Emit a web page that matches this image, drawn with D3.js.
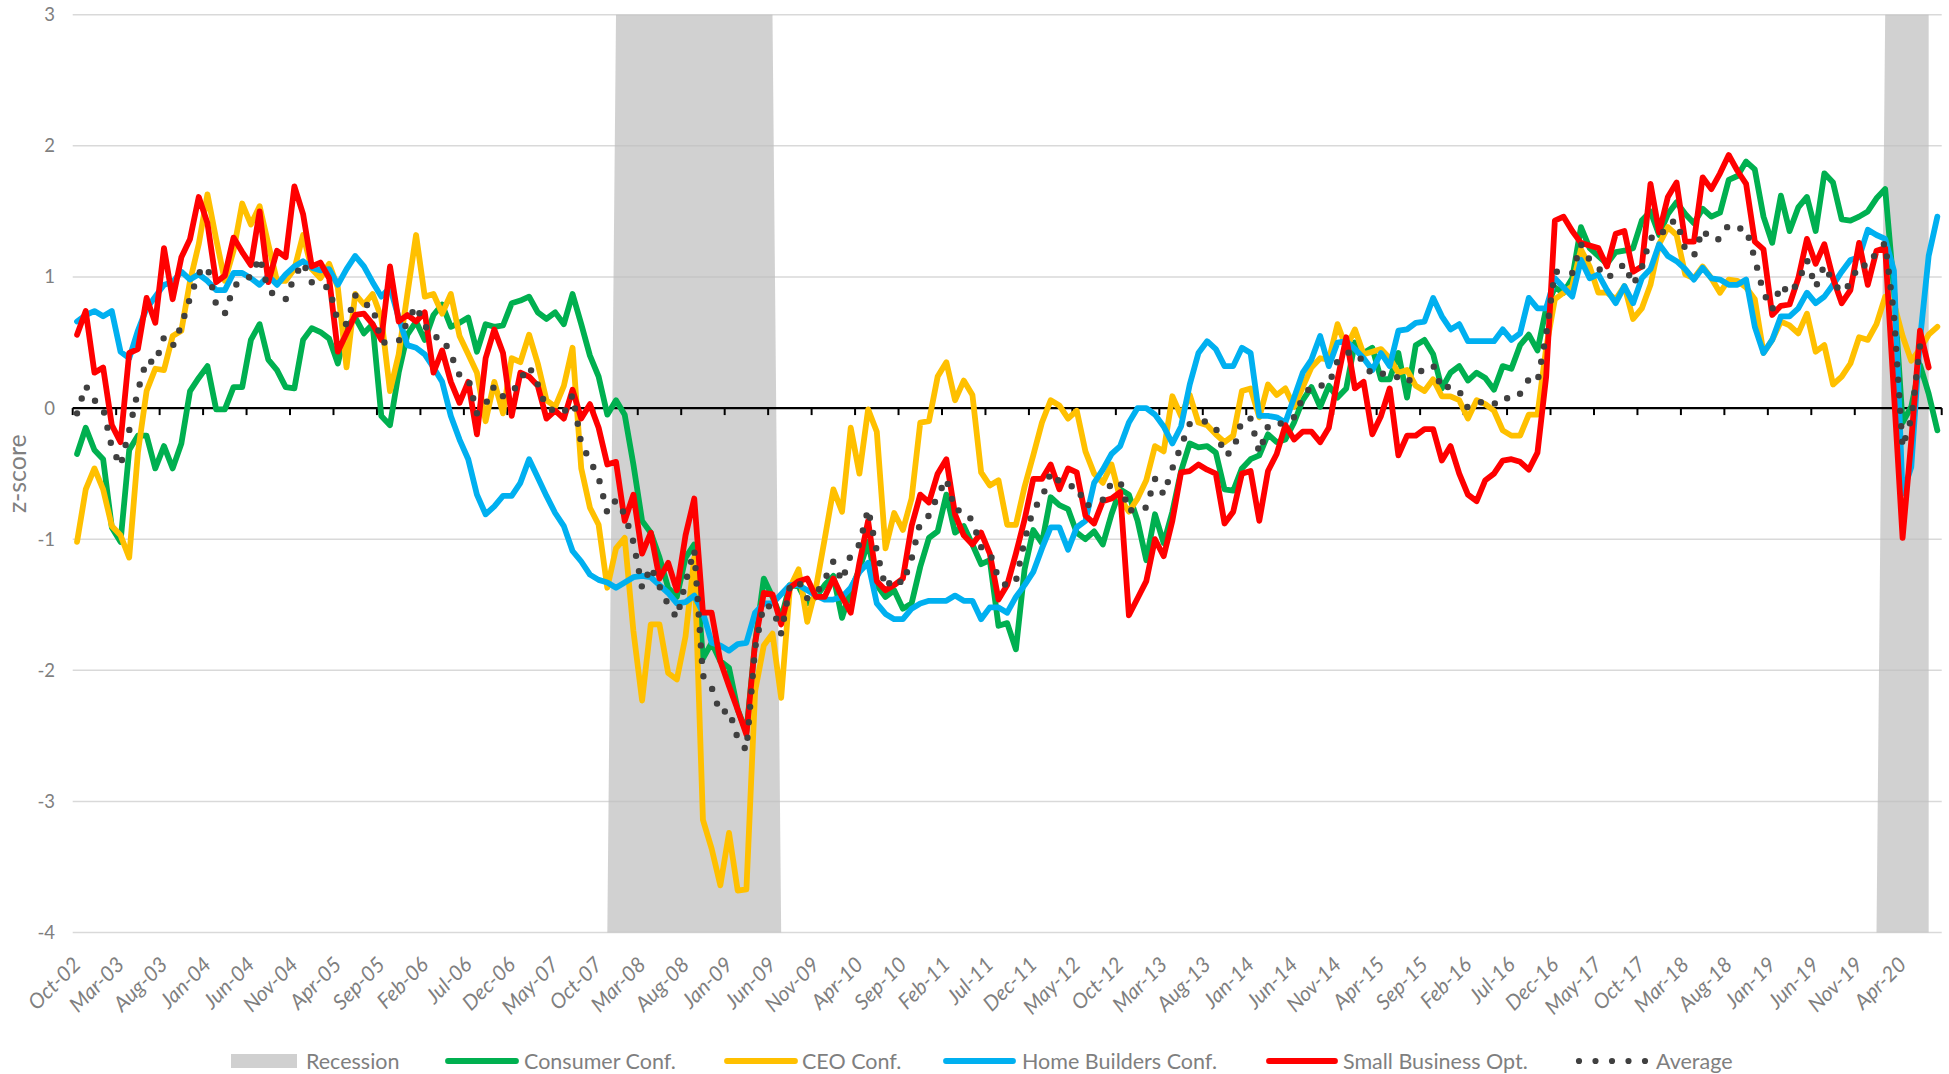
<!DOCTYPE html>
<html><head><meta charset="utf-8">
<script src="https://cdn.jsdelivr.net/npm/d3@7"></script>
<style>html,body{margin:0;padding:0;background:#fff;} svg{display:block;font-family:Lato,"Open Sans",sans-serif;}</style>
</head><body>
<svg id="chart" width="1949" height="1074"></svg>
<script>
// ---------------- DATA ----------------
const firstMonth = new Date(2002, 9, 1);   // Oct-02
const lastMonth  = new Date(2020, 7, 1);   // Aug-20
const fmt = d3.timeFormat("%b-%y");
const categories = d3.timeMonth.range(firstMonth, d3.timeMonth.offset(lastMonth, 1)).map(fmt);

const tickLabels = ["Oct-02","Mar-03","Aug-03","Jan-04","Jun-04","Nov-04","Apr-05","Sep-05","Feb-06","Jul-06",
  "Dec-06","May-07","Oct-07","Mar-08","Aug-08","Jan-09","Jun-09","Nov-09","Apr-10","Sep-10","Feb-11","Jul-11",
  "Dec-11","May-12","Oct-12","Mar-13","Aug-13","Jan-14","Jun-14","Nov-14","Apr-15","Sep-15","Feb-16","Jul-16",
  "Dec-16","May-17","Oct-17","Mar-18","Aug-18","Jan-19","Jun-19","Nov-19","Apr-20"];
const yTicks = [-4, -3, -2, -1, 0, 1, 2, 3];

const recessionPeriods = [["Dec-07", "Jun-09"], ["Feb-20", "Jul-20"]];
const recessionSeriesEnd = "Jul-20";

const consumerConf = [-0.35,-0.15,-0.32,-0.39,-0.91,-1.02,-0.32,-0.21,-0.21,-0.46,
-0.29,-0.46,-0.27,0.13,0.23,0.32,-0.01,-0.01,0.16,0.16,
0.52,0.64,0.37,0.29,0.16,0.15,0.52,0.61,0.58,0.53,
0.34,0.62,0.69,0.57,0.64,-0.06,-0.13,0.27,0.56,0.66,
0.52,0.71,0.79,0.62,0.65,0.69,0.43,0.64,0.62,0.63,
0.80,0.82,0.85,0.73,0.68,0.73,0.64,0.87,0.64,0.40,
0.24,-0.05,0.06,-0.05,-0.43,-0.86,-0.95,-1.14,-1.37,-1.44,
-1.14,-1.04,-1.91,-1.79,-1.93,-1.98,-2.30,-2.47,-1.79,-1.30,
-1.44,-1.60,-1.35,-1.36,-1.49,-1.44,-1.35,-1.28,-1.60,-1.39,
-1.23,-1.02,-1.35,-1.44,-1.39,-1.53,-1.49,-1.21,-0.99,-0.94,
-0.66,-0.95,-0.90,-1.04,-1.19,-1.16,-1.66,-1.64,-1.84,-1.23,
-0.93,-1.03,-0.68,-0.74,-0.77,-0.95,-1.00,-0.94,-1.04,-0.81,
-0.62,-0.66,-0.86,-1.16,-0.81,-1.03,-0.79,-0.48,-0.27,-0.30,
-0.29,-0.34,-0.62,-0.63,-0.46,-0.39,-0.36,-0.20,-0.26,-0.24,
-0.11,0.06,0.16,0.01,0.17,0.08,0.15,0.50,0.42,0.46,
0.22,0.22,0.42,0.08,0.48,0.52,0.41,0.15,0.27,0.32,
0.21,0.27,0.23,0.14,0.32,0.30,0.48,0.56,0.44,0.76,
0.92,0.88,0.99,1.38,1.22,1.16,1.10,1.19,1.20,1.22,
1.43,1.50,1.32,1.48,1.57,1.48,1.41,1.52,1.46,1.49,
1.74,1.77,1.88,1.82,1.46,1.26,1.62,1.35,1.53,1.61,
1.35,1.79,1.72,1.44,1.43,1.46,1.50,1.60,1.67,0.91,
-0.11,0.01,0.33,0.11,-0.17];

const ceoConf = [-1.02,-0.62,-0.46,-0.62,-0.90,-0.97,-1.14,-0.34,0.13,0.30,
0.29,0.55,0.59,0.97,1.25,1.63,1.29,0.97,1.20,1.56,
1.40,1.54,1.25,0.97,0.97,1.06,1.32,1.06,0.99,1.10,
0.92,0.31,0.87,0.79,0.87,0.69,0.13,0.41,0.87,1.32,
0.85,0.87,0.72,0.87,0.55,0.41,0.27,-0.10,0.20,-0.04,
0.38,0.35,0.56,0.34,0.06,0.01,0.17,0.46,-0.46,-0.76,
-0.89,-1.37,-1.07,-0.99,-1.70,-2.23,-1.65,-1.65,-2.02,-2.07,
-1.74,-1.14,-3.14,-3.36,-3.64,-3.24,-3.68,-3.67,-2.16,-1.81,
-1.72,-2.21,-1.37,-1.23,-1.63,-1.37,-1.00,-0.62,-0.79,-0.15,
-0.50,-0.01,-0.18,-1.07,-0.80,-0.93,-0.69,-0.11,-0.10,0.24,
0.35,0.06,0.21,0.10,-0.49,-0.59,-0.55,-0.89,-0.89,-0.60,
-0.36,-0.11,0.06,0.02,-0.08,-0.02,-0.33,-0.50,-0.57,-0.43,
-0.69,-0.79,-0.69,-0.55,-0.29,-0.33,0.09,-0.06,0.10,-0.11,
-0.13,-0.20,-0.26,-0.21,0.13,0.15,-0.07,0.18,0.10,0.15,
0.01,0.16,0.31,0.38,0.37,0.64,0.46,0.60,0.41,0.43,
0.45,0.38,0.27,0.29,0.17,0.13,0.22,0.09,0.09,0.06,
-0.08,0.06,0.03,-0.02,-0.17,-0.21,-0.21,-0.05,-0.05,0.46,
0.83,0.88,0.93,1.21,1.08,0.88,0.88,0.83,0.93,0.68,
0.76,0.94,1.25,1.38,1.32,1.02,0.99,1.08,0.99,0.88,
0.98,0.97,0.92,0.83,0.42,0.52,0.66,0.63,0.57,0.72,
0.43,0.48,0.18,0.24,0.34,0.54,0.52,0.64,0.85,0.80,
0.55,0.36,0.45,0.56,0.62];

const homeBuildersConf = [0.66,0.71,0.74,0.70,0.74,0.43,0.38,0.59,0.76,0.85,
0.94,0.96,1.04,0.98,1.02,0.97,0.90,0.90,1.03,1.03,
0.99,0.94,1.01,0.94,1.02,1.08,1.12,1.07,1.05,1.06,
0.94,1.06,1.16,1.08,0.96,0.85,0.92,0.69,0.48,0.46,
0.41,0.31,0.20,-0.06,-0.24,-0.39,-0.66,-0.81,-0.75,-0.67,
-0.67,-0.57,-0.39,-0.53,-0.67,-0.80,-0.90,-1.09,-1.17,-1.27,
-1.31,-1.33,-1.37,-1.33,-1.29,-1.28,-1.29,-1.35,-1.41,-1.49,
-1.48,-1.43,-1.56,-1.79,-1.81,-1.85,-1.80,-1.79,-1.56,-1.49,
-1.49,-1.42,-1.35,-1.35,-1.39,-1.43,-1.46,-1.46,-1.44,-1.37,
-1.25,-1.18,-1.49,-1.57,-1.61,-1.61,-1.53,-1.49,-1.47,-1.47,
-1.47,-1.43,-1.47,-1.47,-1.61,-1.52,-1.52,-1.56,-1.44,-1.35,
-1.25,-1.07,-0.91,-0.91,-1.08,-0.91,-0.86,-0.57,-0.47,-0.35,
-0.29,-0.11,0.00,0.00,-0.05,-0.14,-0.27,-0.14,0.18,0.42,
0.51,0.45,0.32,0.32,0.46,0.42,-0.06,-0.06,-0.07,-0.11,
0.08,0.27,0.37,0.55,0.32,0.50,0.51,0.45,0.38,0.29,
0.42,0.32,0.59,0.60,0.65,0.66,0.84,0.70,0.60,0.64,
0.51,0.51,0.51,0.51,0.60,0.52,0.57,0.84,0.76,0.76,
0.99,0.92,0.85,1.13,0.99,1.02,0.90,0.80,0.93,0.80,
0.99,1.06,1.25,1.16,1.12,1.06,0.98,1.07,0.99,0.98,
0.94,0.94,0.98,0.62,0.42,0.52,0.70,0.70,0.76,0.88,
0.80,0.85,0.94,1.04,1.13,1.15,1.36,1.32,1.29,1.05,
-0.65,-0.45,0.52,1.16,1.46];

const smallBusinessOpt = [0.56,0.74,0.27,0.31,-0.13,-0.26,0.42,0.45,0.84,0.65,
1.22,0.83,1.15,1.29,1.61,1.41,0.96,1.01,1.30,1.19,
1.09,1.50,0.96,1.20,1.15,1.69,1.48,1.08,1.11,0.99,
0.43,0.57,0.71,0.72,0.64,0.52,1.08,0.66,0.71,0.66,
0.73,0.27,0.44,0.20,0.04,0.20,-0.20,0.38,0.60,0.42,
-0.06,0.27,0.24,0.17,-0.08,-0.02,-0.08,0.14,-0.08,0.03,
-0.15,-0.43,-0.41,-0.86,-0.66,-1.11,-0.95,-1.30,-1.18,-1.39,
-0.97,-0.69,-1.56,-1.56,-1.93,-2.12,-2.30,-2.49,-1.79,-1.41,
-1.42,-1.65,-1.37,-1.32,-1.30,-1.44,-1.44,-1.30,-1.44,-1.56,
-1.18,-0.86,-1.32,-1.39,-1.35,-1.30,-0.90,-0.66,-0.72,-0.50,
-0.39,-0.81,-0.97,-1.04,-0.95,-1.11,-1.46,-1.35,-1.11,-0.85,
-0.54,-0.54,-0.43,-0.62,-0.46,-0.49,-0.82,-0.88,-0.71,-0.69,
-0.64,-1.58,-1.45,-1.32,-1.00,-1.13,-0.86,-0.49,-0.48,-0.43,
-0.47,-0.50,-0.88,-0.79,-0.50,-0.48,-0.86,-0.48,-0.35,-0.13,
-0.24,-0.18,-0.18,-0.26,-0.15,0.22,0.54,0.15,0.20,-0.20,
-0.06,0.15,-0.36,-0.21,-0.21,-0.16,-0.16,-0.40,-0.29,-0.50,
-0.66,-0.71,-0.55,-0.50,-0.40,-0.39,-0.41,-0.47,-0.34,0.24,
1.43,1.46,1.35,1.26,1.24,1.22,1.08,1.33,1.35,1.04,
1.08,1.71,1.34,1.61,1.72,1.27,1.27,1.76,1.67,1.79,
1.93,1.81,1.71,1.27,1.21,0.71,0.78,0.79,0.99,1.29,
1.10,1.25,0.99,0.80,0.90,1.26,0.94,1.20,1.22,0.12,
-0.99,-0.25,0.59,0.31];

const averageIdx = [-0.04,0.17,0.06,0.00,-0.30,-0.44,-0.17,0.13,0.37,0.34,
0.54,0.47,0.63,0.84,1.03,1.08,0.79,0.72,0.92,0.99,
1.00,1.15,0.90,0.85,0.83,1.00,1.11,0.96,0.93,0.92,
0.66,0.64,0.86,0.79,0.78,0.50,0.50,0.51,0.66,0.78,
0.63,0.54,0.54,0.41,0.25,0.23,-0.04,0.03,0.17,0.09,
0.11,0.22,0.32,0.18,0.00,-0.02,-0.04,0.10,-0.27,-0.40,
-0.53,-0.80,-0.70,-0.81,-1.02,-1.37,-1.21,-1.36,-1.50,-1.60,
-1.33,-1.08,-2.04,-2.13,-2.33,-2.30,-2.52,-2.61,-1.83,-1.50,
-1.52,-1.72,-1.36,-1.32,-1.45,-1.42,-1.31,-1.17,-1.32,-1.12,
-1.04,-0.77,-1.09,-1.37,-1.29,-1.34,-1.15,-0.87,-0.82,-0.67,
-0.54,-0.78,-0.78,-0.86,-1.06,-1.10,-1.30,-1.36,-1.32,-1.01,
-0.77,-0.69,-0.49,-0.56,-0.60,-0.59,-0.75,-0.72,-0.70,-0.57,
-0.56,-0.79,-0.75,-0.76,-0.54,-0.66,-0.46,-0.29,-0.12,-0.11,
-0.10,-0.15,-0.36,-0.33,-0.09,-0.08,-0.34,-0.14,-0.15,-0.08,
-0.07,0.08,0.17,0.17,0.18,0.36,0.42,0.43,0.35,0.25,
0.26,0.27,0.23,0.19,0.27,0.29,0.33,0.14,0.17,0.13,
0.00,0.03,0.06,0.03,0.09,0.06,0.11,0.22,0.20,0.56,
1.04,1.04,1.03,1.25,1.13,1.07,0.99,1.04,1.10,0.94,
1.07,1.30,1.29,1.41,1.43,1.21,1.16,1.36,1.28,1.29,
1.40,1.37,1.37,1.14,0.88,0.75,0.94,0.87,0.96,1.13,
0.92,1.09,0.96,0.88,0.95,1.10,1.08,1.19,1.26,0.72,
-0.30,-0.08,0.47];

const seriesNames = ["Consumer Conf.", "CEO Conf.", "Home Builders Conf.", "Small Business Opt.", "Average"];
const seriesColors = ["#00B050", "#FFC000", "#00B0F0", "#FF0000", "#404040"];

// ---------------- CHART ----------------
const svg = d3.select("#chart");
svg.append("rect").attr("width", 1949).attr("height", 1074).attr("fill", "#fff");

const plotL = 72.7, plotR = 1941.7, plotT = 14.7, plotB = 932.6;
const x = d3.scaleBand().domain(categories).range([plotL, plotR]).paddingInner(0).paddingOuter(0);
const cx = c => x(c) + x.bandwidth() / 2;
const y = d3.scaleLinear().domain([-4, 3]).range([plotB, plotT]);
const labelColor = "#7f7f7f";

// gridlines
svg.append("g").selectAll("line").data(yTicks).join("line")
  .attr("x1", plotL).attr("x2", plotR)
  .attr("y1", d => y(d)).attr("y2", d => y(d))
  .attr("stroke", "#d9d9d9").attr("stroke-width", 1.5);

// recession shading
const recEnd = categories.indexOf(recessionSeriesEnd);
const recRanges = recessionPeriods.map(([a, b]) => [categories.indexOf(a), categories.indexOf(b)]);
const recData = categories.slice(0, recEnd + 1).map((c, i) => ({
  c, v: recRanges.some(([a, b]) => i >= a && i <= b) ? 3 : -4
}));
svg.append("path").datum(recData)
  .attr("d", d3.area().x(d => cx(d.c)).y0(y(-4)).y1(d => y(d.v)))
  .attr("fill", "#bdbdbd").attr("fill-opacity", 0.7);

// y tick labels
svg.append("g").selectAll("text").data(yTicks).join("text")
  .attr("x", 55).attr("y", d => y(d)).attr("dy", "0.35em")
  .attr("text-anchor", "end").attr("font-size", 18.5).attr("fill", labelColor)
  .text(d => d);

// y title
svg.append("text").attr("transform", `translate(26,${(plotT + plotB) / 2}) rotate(-90)`)
  .attr("text-anchor", "middle").attr("font-size", 25).attr("fill", labelColor).text("z-score");

// zero axis + ticks
svg.append("line").attr("x1", plotL).attr("x2", plotR).attr("y1", y(0)).attr("y2", y(0))
  .attr("stroke", "#000").attr("stroke-width", 2.2);
const tickPos = categories.filter((c, i) => i % 5 === 0).map(c => x(c)).concat([plotR]);
svg.append("g").selectAll("line").data(tickPos).join("line")
  .attr("x1", d => d).attr("x2", d => d).attr("y1", y(0)).attr("y2", y(0) + 7)
  .attr("stroke", "#000").attr("stroke-width", 2);

// x labels
svg.append("g").selectAll("text").data(tickLabels).join("text")
  .attr("transform", d => `translate(${cx(d) + 5},966) rotate(-45)`)
  .attr("text-anchor", "end").attr("font-size", 21).attr("font-style", "italic")
  .attr("fill", labelColor).text(d => d);

// series lines
const line = d3.line().defined(d => d != null).x(d => cx(d.c)).y(d => y(d.v));
const allSeries = [consumerConf, ceoConf, homeBuildersConf, smallBusinessOpt, averageIdx];
allSeries.forEach((vals, k) => {
  const pts = vals.map((v, i) => ({ c: categories[i], v }));
  const p = svg.append("path").datum(pts).attr("d", line)
    .attr("fill", "none").attr("stroke", seriesColors[k])
    .attr("stroke-linejoin", "round").attr("stroke-linecap", "round");
  if (k === 4) {
    p.attr("stroke-width", 6.4).attr("stroke-dasharray", "0 15.5");
  } else {
    p.attr("stroke-width", 5.8);
  }
});

// legend
const legY = 1061;
const lg = svg.append("g").attr("font-size", 21.5).attr("fill", labelColor);
lg.append("rect").attr("x", 231).attr("y", legY - 7).attr("width", 66).attr("height", 14).attr("fill", "#d0d0d0");
lg.append("text").attr("x", 306).attr("y", legY).attr("dy", "0.35em").text("Recession");
const legItems = [
  { name: seriesNames[0], color: seriesColors[0], x1: 448, x2: 516, tx: 524 },
  { name: seriesNames[1], color: seriesColors[1], x1: 727, x2: 795, tx: 802 },
  { name: seriesNames[2], color: seriesColors[2], x1: 946, x2: 1013, tx: 1022 },
  { name: seriesNames[3], color: seriesColors[3], x1: 1269, x2: 1335, tx: 1343 }
];
legItems.forEach(it => {
  lg.append("line").attr("x1", it.x1).attr("x2", it.x2).attr("y1", legY).attr("y2", legY)
    .attr("stroke", it.color).attr("stroke-width", 5.8).attr("stroke-linecap", "round");
  lg.append("text").attr("x", it.tx).attr("y", legY).attr("dy", "0.35em").text(it.name);
});
lg.append("line").attr("x1", 1579).attr("x2", 1646).attr("y1", legY).attr("y2", legY)
  .attr("stroke", seriesColors[4]).attr("stroke-width", 6.2).attr("stroke-linecap", "round")
  .attr("stroke-dasharray", "0 16.5");
lg.append("text").attr("x", 1656).attr("y", legY).attr("dy", "0.35em").text(seriesNames[4]);
</script>
</body></html>
